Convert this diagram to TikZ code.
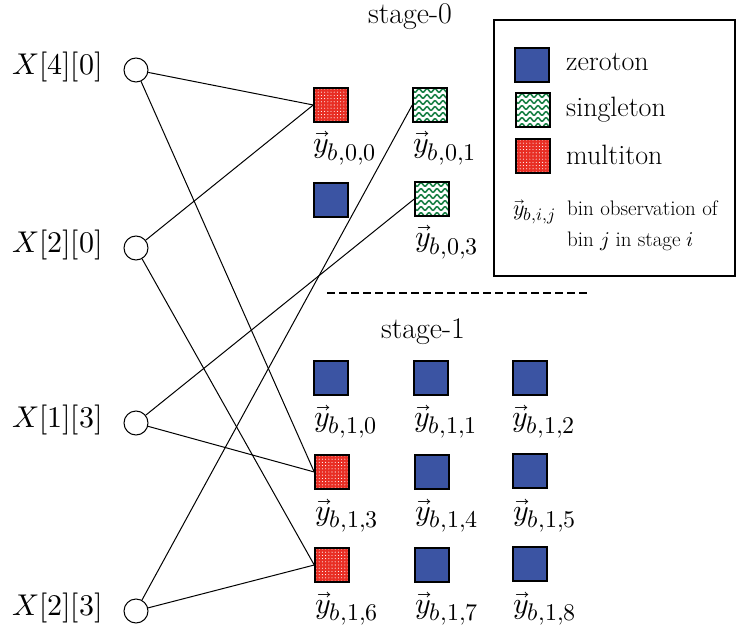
\documentclass[tikz,border=0pt]{standalone}
\usepackage{unicode-math}
\setmathfont{Latin Modern Math}
% larger subscripts for the bin labels
\DeclareMathSizes{30}{30}{24}{19}
\DeclareMathSizes{22}{22}{17.5}{14}
\definecolor{zeroblue}{RGB}{59,84,163}
\definecolor{multired}{RGB}{232,46,36}
\definecolor{singlegreen}{RGB}{28,130,72}
\tikzset{
  bin/.style={draw=black, line width=1.5pt, minimum size=34pt, inner sep=0pt},
  zeroton/.style={bin, fill=zeroblue},
  multiton/.style={bin, fill=multired, path picture={
      \foreach \i in {0,...,10}{\foreach \j in {0,...,10}{
        \fill[white] ([shift={(\i*3.2+1,\j*3.2+1)}]path picture bounding box.north west) circle (0.55pt);}}}},
  singleton/.style={bin, fill=white, path picture={
      \foreach \r in {0,...,5}{
        \draw[singlegreen, line width=1.6pt]
          plot[domain=-2:36, samples=60, smooth]
          ([shift={(\x,{2.5+\r*6+1.7*sin(45*\x)})}]path picture bounding box.north west);}}},
  xnode/.style={circle, draw, line width=1pt, minimum size=24pt, inner sep=0pt},
  xlbl/.style={font=\fontsize{30}{36}\selectfont, inner sep=0pt},
  stagelbl/.style={font=\fontsize{30}{36}\selectfont, inner sep=0pt},
  ylbl/.style={font=\fontsize{30}{36}\selectfont, inner sep=0pt},
  lbl/.style={font=\fontsize{28}{34}\selectfont, inner sep=0pt},
  small/.style={font=\fontsize{21}{25}\selectfont, inner sep=0pt},
  edge/.style={line width=1pt},
}
\begin{document}
\begin{tikzpicture}[x=1pt, y=-1pt]
\useasboundingbox (0,0) rectangle (738,628);

% input nodes
\node[xnode] (x40) at (136,70) {};
\node[xnode] (x20) at (136,248) {};
\node[xnode] (x13) at (136,423) {};
\node[xnode] (x23) at (136,611) {};
\node[xlbl, anchor=east] (tx40) at (103,67) {$X[4][0]$};
\node[xlbl, anchor=east] (tx20) at (103,245) {$X[2][0]$};
\node[xlbl, anchor=east] (tx13) at (103,420) {$X[1][3]$};
\node[xlbl, anchor=east] (tx23) at (103,608) {$X[2][3]$};

% stage 0
\node[stagelbl, anchor=base] (st0) at (410,24) {stage-0};
\node[multiton]  (s00) at (331,105) {};
\node[singleton] (s01) at (430,105) {};
\node[zeroton]   (s02) at (331,200) {};
\node[singleton] (s03) at (432,199) {};
\node[ylbl, anchor=base west] (l00) at (313,153) {$\vec{y}_{b,0,0}$};
\node[ylbl, anchor=base west] (l01) at (413,153) {$\vec{y}_{b,0,1}$};
\node[ylbl, anchor=base west] (l03) at (415,247) {$\vec{y}_{b,0,3}$};

% separator
\coordinate (dA) at (327,293);
\coordinate (dB) at (588,293);
\draw[line width=1.3pt, dash pattern=on 8pt off 4pt] (dA) -- (dB);

% stage 1
\node[stagelbl, anchor=base] (st1) at (423,338) {stage-1};
\node[zeroton]  (s10) at (331,378) {};
\node[zeroton]  (s11) at (431,378) {};
\node[zeroton]  (s12) at (530,378) {};
\node[multiton] (s13) at (332,472) {};
\node[zeroton]  (s14) at (432,472) {};
\node[zeroton]  (s15) at (530,471) {};
\node[multiton] (s16) at (332,565) {};
\node[zeroton]  (s17) at (432,565) {};
\node[zeroton]  (s18) at (530,564) {};
\node[ylbl, anchor=base west] (l10) at (314,426) {$\vec{y}_{b,1,0}$};
\node[ylbl, anchor=base west] (l11) at (414,426) {$\vec{y}_{b,1,1}$};
\node[ylbl, anchor=base west] (l12) at (512,426) {$\vec{y}_{b,1,2}$};
\node[ylbl, anchor=base west] (l13) at (315,520) {$\vec{y}_{b,1,3}$};
\node[ylbl, anchor=base west] (l14) at (415,520) {$\vec{y}_{b,1,4}$};
\node[ylbl, anchor=base west] (l15) at (513,520) {$\vec{y}_{b,1,5}$};
\node[ylbl, anchor=base west] (l16) at (315,613) {$\vec{y}_{b,1,6}$};
\node[ylbl, anchor=base west] (l17) at (415,613) {$\vec{y}_{b,1,7}$};
\node[ylbl, anchor=base west] (l18) at (513,613) {$\vec{y}_{b,1,8}$};

% connections
\draw[edge] (x40) -- (s00.west);
\draw[edge] (x40) -- (s13.west);
\draw[edge] (x20) -- (s00.west);
\draw[edge] (x20) -- (s16.west);
\draw[edge] (x13) -- (s03.west);
\draw[edge] (x13) -- (s13.west);
\draw[edge] (x23) -- (s01.west);
\draw[edge] (x23) -- (s16.west);

% legend
\node[draw, line width=1.3pt, minimum width=241pt, minimum height=256pt, inner sep=0pt] (legend) at (614.5,148) {};
\node[zeroton]   (lz) at (532,65) {};
\node[singleton] (ls) at (533,110) {};
\node[multiton]  (lm) at (533,156) {};
\node[lbl, anchor=base west] (tz) at (566,71) {zeroton};
\node[lbl, anchor=base west] (ts) at (566,117) {singleton};
\node[lbl, anchor=base west] (tm) at (566,165) {multiton};
\node[small, anchor=base west] (ty) at (513,215) {\fontsize{22}{26}\selectfont$\vec{y}_{b,i,j}$};
\node[small, anchor=base west] (td1) at (567,215) {bin observation of};
\node[small, anchor=base west] (td2) at (567,246) {bin $j$ in stage $i$};
\end{tikzpicture}
\end{document}
